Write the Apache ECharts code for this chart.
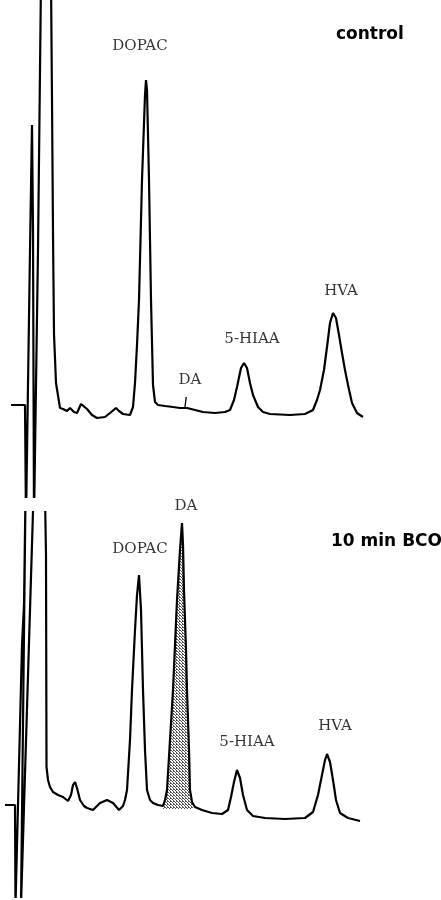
<!DOCTYPE html>
<html>
<head>
<meta charset="utf-8">
<script src="https://cdn.jsdelivr.net/npm/echarts@6/dist/echarts.min.js"></script>
<style>
  html, body { margin: 0; padding: 0; background: #fff; }
  #chart { width: 441px; height: 900px; }
</style>
</head>
<body>
<div id="chart"></div>
<script>
// Control chromatogram: retention time (chart units) and detector signal.
const controlTime = [
  11, 25, 26, 28, 30, 32, 33, 34, 36, 38, 41, 51, 52, 53, 54, 56, 60,
  63, 67, 70, 74, 77, 81, 83, 87, 92, 97, 105, 110, 116, 119, 123, 130,
  133, 135, 137, 139, 142, 145, 146, 147, 149, 151, 153, 155, 158, 165,
  173, 180, 187, 195, 203, 215, 225, 230, 234, 237, 241, 244, 247, 250,
  253, 258, 263, 270, 290, 305, 313, 317, 320, 324, 327, 330, 333, 336,
  339, 342, 345, 348, 352, 357, 363
];
const controlSignal = [
  0, 0, -115, -115, 155, 280, 175, -115, -115, 155, 425, 425, 305, 172, 71, 22, -3,
  -4, -6, -3, -7, -8, 1, 1, -4, -10, -13, -12, -8, -3, -6, -9, -10,
  -2, 22, 60, 105, 225, 310, 325, 315, 225, 105, 20, 3, 0, -1,
  -2, -3, -3, -5, -7, -8, -7, -5, 5, 18, 37, 42, 37, 22,
  10, -2, -7, -9, -10, -9, -5, 5, 15, 35, 58, 82, 92, 87,
  70, 52, 35, 20, 2, -8, -12
];

// 10 min BCO chromatogram.
const bcoTime = [
  5, 15, 15.5, 17, 22, 24, 25.5, 23.5, 21, 23, 33.5, 45, 46, 46.5, 48, 50,
  53, 58, 63, 68, 71, 73, 75, 77, 80, 84, 87, 93, 100, 107, 113, 119,
  123, 125, 127, 130, 132, 135, 137, 139, 141, 143, 145, 147, 150, 153,
  158, 163, 165, 167, 170, 173, 177, 180, 182, 183, 184, 186, 187, 189,
  190, 192, 195, 202, 212, 222, 228, 231, 234, 237, 240, 243, 247, 253,
  265, 285, 305, 313, 318, 322, 325, 327, 330, 333, 336, 340, 348, 360
];
const bcoSignal = [
  0, 0, -100, -100, 160, 200, 310, 310, -100, -100, 310, 310, 250, 38, 25, 18,
  13, 10, 8, 4, 10, 20, 23, 17, 5, -1, -3, -5, 2, 5, 2, -5,
  -1, 5, 15, 65, 115, 175, 210, 230, 195, 115, 55, 15, 5, 2,
  0, -1, 5, 15, 65, 115, 205, 255, 282, 260, 215, 155, 115, 55,
  15, 3, -2, -5, -8, -9, -5, 8, 23, 35, 27, 10, -5, -11,
  -13, -14, -13, -7, 10, 30, 45, 51, 43, 25, 5, -8, -13, -16
];

// Peak names and their retention times in each run.
const peakNames = ['DOPAC', 'DA', '5-HIAA', 'HVA'];
const controlPeakTimes = [146, 185, 244, 333];
const bcoPeakTimes = [139, 182, 237, 327];

// Retention window of the shaded DA peak in the BCO run.
const daWindow = [163, 195];

// Panel headings.
const panelTitles = ['control', '10 min BCO'];

// ---- layout and styling ----
const ink = '#000';
const labelOffsets = {
  control: [[-6, -26], [5, -20], [8, -16], [8, -14]],
  bco: [[1, -18], [4, -9], [10, -20], [8, -20]]
};

function pairs(t, v) { return t.map((x, i) => [x, v[i]]); }

function apexValue(t, v, at) {
  let best = -Infinity;
  t.forEach((x, i) => { if (Math.abs(x - at) <= 2 && v[i] > best) best = v[i]; });
  return best;
}

function peakLabels(t, v, times, offsets) {
  return times.map((at, i) => ({
    value: [at, apexValue(t, v, at)],
    name: peakNames[i],
    label: { offset: offsets[i] }
  }));
}

// Light dotted stipple for the shaded peak.
function stipple() {
  const c = document.createElement('canvas');
  c.width = 3; c.height = 3;
  const g = c.getContext('2d');
  g.fillStyle = '#ffffff';
  g.fillRect(0, 0, 3, 3);
  g.fillStyle = '#555555';
  g.fillRect(0, 0, 1, 1);
  g.fillRect(1, 1, 1, 1);
  g.fillRect(2, 2, 1, 1);
  g.fillRect(2, 0, 1, 1);
  return c;
}

const bcoPairs = pairs(bcoTime, bcoSignal);
const daPairs = bcoPairs.filter(p => p[0] >= daWindow[0] && p[0] <= daWindow[1]);

const peakLabelStyle = {
  show: true,
  position: 'top',
  distance: 0,
  formatter: '{b}',
  fontFamily: 'DejaVu Serif',
  fontSize: 15,
  color: ink
};

const traceLine = { color: ink, width: 2.2 };

const chart = echarts.init(document.getElementById('chart'), null, { renderer: 'canvas' });
chart.setOption({
  animation: false,
  backgroundColor: '#ffffff',
  title: [
    { text: panelTitles[0], left: 331, top: 21,
      textStyle: { fontFamily: 'DejaVu Sans', fontWeight: 'bold', fontSize: 17, color: ink } },
    { text: panelTitles[1], left: 326, top: 528,
      textStyle: { fontFamily: 'DejaVu Sans', fontWeight: 'bold', fontSize: 17, color: ink } }
  ],
  grid: [
    { left: 0, width: 441, top: 0, height: 497 },
    { left: 0, width: 441, top: 512, height: 385 }
  ],
  xAxis: [
    { type: 'value', gridIndex: 0, min: 0, max: 441, show: false },
    { type: 'value', gridIndex: 1, min: 0, max: 441, show: false }
  ],
  yAxis: [
    { type: 'value', gridIndex: 0, min: -92, max: 405, show: false },
    { type: 'value', gridIndex: 1, min: -92, max: 293, show: false }
  ],
  series: [
    {
      name: 'control', type: 'line', xAxisIndex: 0, yAxisIndex: 0,
      data: pairs(controlTime, controlSignal),
      showSymbol: false, symbol: 'none', clip: true,
      lineStyle: traceLine
    },
    {
      name: 'DA marker', type: 'line', xAxisIndex: 0, yAxisIndex: 0,
      data: [[185, -2], [186.2, 8]],
      showSymbol: false, symbol: 'none',
      lineStyle: { color: ink, width: 1.3 }
    },
    {
      name: 'control peaks', type: 'scatter', xAxisIndex: 0, yAxisIndex: 0,
      symbolSize: 0,
      data: peakLabels(controlTime, controlSignal, controlPeakTimes, labelOffsets.control),
      label: peakLabelStyle
    },
    {
      name: 'DA area', type: 'line', xAxisIndex: 1, yAxisIndex: 1,
      data: daPairs,
      showSymbol: false, symbol: 'none',
      lineStyle: { width: 0, opacity: 0 },
      areaStyle: { color: { image: stipple(), repeat: 'repeat' }, opacity: 1, origin: -4 },
      z: 1
    },
    {
      name: '10 min BCO', type: 'line', xAxisIndex: 1, yAxisIndex: 1,
      data: bcoPairs,
      showSymbol: false, symbol: 'none', clip: true,
      lineStyle: traceLine, z: 3
    },
    {
      name: 'BCO peaks', type: 'scatter', xAxisIndex: 1, yAxisIndex: 1,
      symbolSize: 0,
      data: peakLabels(bcoTime, bcoSignal, bcoPeakTimes, labelOffsets.bco),
      label: peakLabelStyle
    }
  ]
});
</script>
</body>
</html>
